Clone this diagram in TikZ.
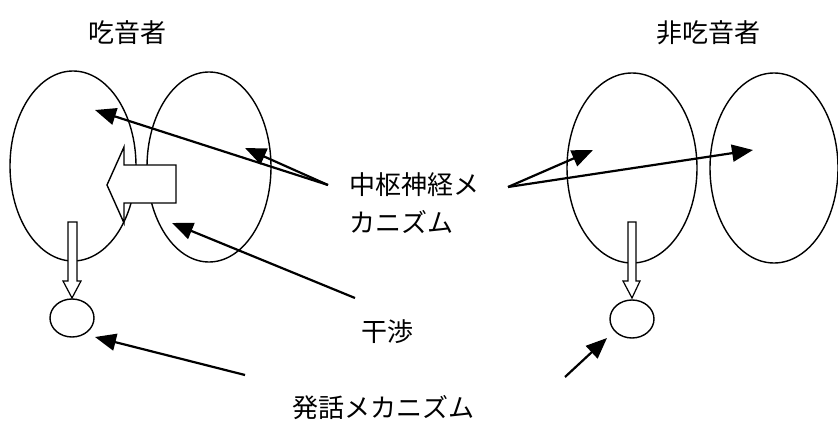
\documentclass[tikz,border=0pt]{standalone}
\usepackage{fontspec}
\newfontfamily\jp{Noto Sans CJK JP}
\usetikzlibrary{shapes.geometric,arrows.meta}
\begin{document}
\begin{tikzpicture}[x=1pt,y=-1pt,
  lobe/.style={ellipse,draw,line width=1.4pt,inner sep=0,outer sep=0},
  small/.style={ellipse,draw,line width=1.4pt,inner sep=0,outer sep=0,minimum width=44pt,minimum height=38pt},
  lbl/.style={font=\jp\fontsize{26}{38}\selectfont,inner sep=0},
  ptr/.style={line width=2.2pt,-{Triangle[length=21pt,width=17pt]}},
  blockarrow/.style={draw,fill=white,line width=1.4pt,line join=miter}]
\useasboundingbox (0,0) rectangle (838,428);
% titles
\node[lbl] (t1) at (127,33) {吃音者};
\node[lbl] (t2) at (708,33) {非吃音者};
% stutterer lobes
\node[lobe,minimum width=126pt,minimum height=190pt] (L1) at (73,166) {};
\node[lobe,minimum width=124pt,minimum height=190pt] (L2) at (209,167) {};
% non-stutterer lobes
\node[lobe,minimum width=130pt,minimum height=190pt] (R1) at (632,168) {};
\node[lobe,minimum width=128pt,minimum height=190pt] (R2) at (774,168) {};
% interference block arrow
\path[blockarrow] (107,185) -- (124,147) -- (124,165) -- (176,165) -- (176,203) -- (124,203) -- (124,223) -- cycle;
% vertical white arrows
\path[blockarrow,line width=1.2pt] (68,222) -- (77,222) -- (77,281) -- (81,281) -- (72,298) -- (63,281) -- (68,281) -- cycle;
\path[blockarrow,line width=1.2pt] (628,222) -- (636,222) -- (636,281) -- (640,281) -- (632,298) -- (623,281) -- (628,281) -- cycle;
% speech mechanism circles
\node[small] (S1) at (72,318) {};
\node[small] (S2) at (632,319) {};
% labels
\node[lbl,align=left,anchor=west] (cn) at (349,203) {中枢神経メ\\カニズム};
\node[lbl] (kan) at (387,332) {干渉};
\node[lbl,anchor=west] (hw) at (292,408) {発話メカニズム};
% connector endpoints
\coordinate (cnL) at (328,185);
\coordinate (cnR) at (508,187);
\coordinate (kanS) at (355,298);
\coordinate (hwL) at (245,375);
\coordinate (hwR) at (565,377);
\coordinate (tipA) at (95,110);
\coordinate (tipB) at (245,148);
\coordinate (tipC) at (172,223);
\coordinate (tipD) at (95,337);
\coordinate (tipE) at (593,150);
\coordinate (tipF) at (753,150);
\coordinate (tipG) at (607,338);
\draw[ptr] (cnL) -- (tipA);
\draw[ptr] (cnL) -- (tipB);
\draw[ptr] (kanS) -- (tipC);
\draw[ptr] (hwL) -- (tipD);
\draw[ptr] (cnR) -- (tipE);
\draw[ptr] (cnR) -- (tipF);
\draw[ptr] (hwR) -- (tipG);
\end{tikzpicture}
\end{document}
